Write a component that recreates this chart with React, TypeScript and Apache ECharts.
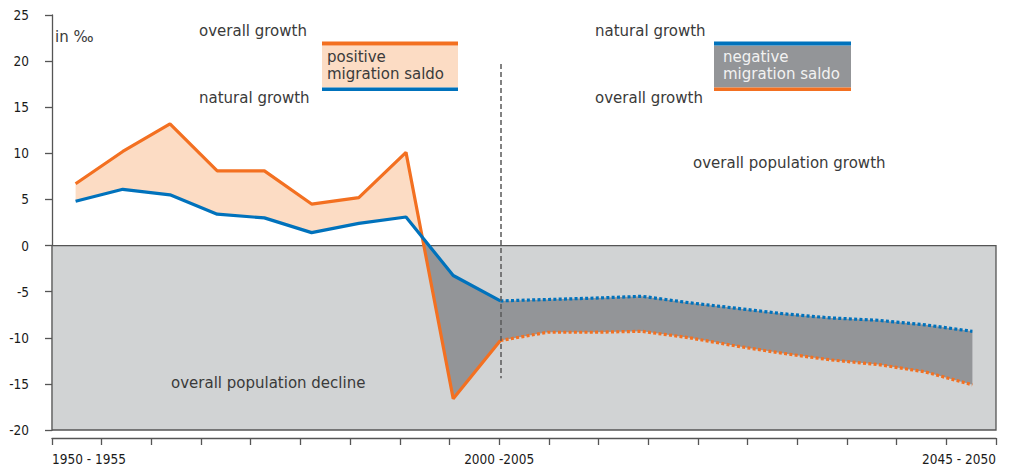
import React, { useEffect, useRef } from "react";
import * as echarts from "echarts";

// Five-year periods 1950-1955 ... 2045-2050 (data categories)
const periods = [
  "1950-1955", "1955-1960", "1960-1965", "1965-1970", "1970-1975",
  "1975-1980", "1980-1985", "1985-1990", "1990-1995", "1995-2000",
  "2000-2005", "2005-2010", "2010-2015", "2015-2020", "2020-2025",
  "2025-2030", "2030-2035", "2035-2040", "2040-2045", "2045-2050",
];
// overall growth (in per mille)
const overallGrowth = [
  6.7, 10.2, 13.2, 8.1, 8.1, 4.5, 5.2, 10.1, -16.6, -10.3,
  -9.4, -9.4, -9.3, -10.0, -10.9, -11.7, -12.4, -12.9, -13.7, -15.1,
];
// natural growth (in per mille)
const naturalGrowth = [
  4.8, 6.1, 5.5, 3.4, 3.0, 1.4, 2.4, 3.1, -3.25, -6.0,
  -5.85, -5.7, -5.5, -6.2, -6.8, -7.4, -7.85, -8.1, -8.6, -9.3,
];
// index where the projection (dotted) starts
const projectionStart = 9;
// tick labels of the visible time axis (20 ticks)
const timeTickLabels = [
  "1950 - 1955", "", "", "", "", "", "", "", "", "2000 -2005",
  "", "", "", "", "", "", "", "", "", "2045 - 2050",
];
const yMin = -20;
const yMax = 25;
const yInterval = 5;
const dashedLineRange = [19.7, -14.4];

const ORANGE = "#f37021";
const BLUE = "#0072bc";
const PEACH = "#fcdcc4";
const DARKGRAY = "#939598";
const LIGHTGRAY = "#d1d3d4";
const TXT = "#3a3a3a";
const ANN_FONT = "'DejaVu Sans', sans-serif";
const AXIS_FONT = "'Liberation Sans Narrow', 'DejaVu Sans Condensed', sans-serif";

export default function App() {
  const ref = useRef<HTMLDivElement>(null);

  useEffect(() => {
    if (!ref.current) return;
    const chart = echarts.init(ref.current, undefined, { renderer: "svg" });

    const renderBands = (params: any, api: any) => {
      const n = overallGrowth.length;
      const po = overallGrowth.map((v, i) => api.coord([i, v]));
      const pb = naturalGrowth.map((v, i) => api.coord([i, v]));
      let k = 0;
      for (let i = 0; i < n - 1; i++) {
        const a = overallGrowth[i] - naturalGrowth[i];
        const b = overallGrowth[i + 1] - naturalGrowth[i + 1];
        if (a >= 0 && b < 0) { k = i; break; }
      }
      const d0 = overallGrowth[k] - naturalGrowth[k];
      const d1 = overallGrowth[k + 1] - naturalGrowth[k + 1];
      const t = d0 / (d0 - d1);
      const cross = [
        po[k][0] + t * (po[k + 1][0] - po[k][0]),
        po[k][1] + t * (po[k + 1][1] - po[k][1]),
      ];
      const pos: number[][] = [];
      for (let i = 0; i <= k; i++) pos.push(po[i]);
      pos.push(cross);
      for (let i = k; i >= 0; i--) pos.push(pb[i]);
      const neg: number[][] = [cross];
      for (let i = k + 1; i < n; i++) neg.push(po[i]);
      for (let i = n - 1; i >= k + 1; i--) neg.push(pb[i]);
      return {
        type: "group",
        children: [
          { type: "polygon", shape: { points: pos }, style: { fill: PEACH } },
          { type: "polygon", shape: { points: neg }, style: { fill: DARKGRAY } },
        ],
      };
    };

    const solid = (arr: number[]) => arr.map((v, i) => (i <= projectionStart ? v : null));
    const dotted = (arr: number[]) => arr.map((v, i) => (i >= projectionStart ? v : null));

    const annText = (text: string, x: number, y: number, fill = TXT, lineHeight = 18) => ({
      type: "text",
      x,
      y,
      style: {
        text,
        fill,
        fontFamily: ANN_FONT,
        fontSize: 15,
        lineHeight,
        verticalAlign: "middle",
        align: "left",
      },
      z: 10,
    });

    const option: any = {
      animation: false,
      grid: { left: 52, right: 14, top: 15, bottom: 38, outerBoundsMode: "none" },
      xAxis: [
        {
          type: "category",
          data: periods,
          boundaryGap: true,
          show: false,
        },
        {
          type: "value",
          min: 0,
          max: timeTickLabels.length - 1,
          interval: 1,
          position: "bottom",
          offset: 8,
          axisLine: { show: true, lineStyle: { color: "#555", width: 1.3 } },
          axisTick: { show: true, length: 7, inside: false, lineStyle: { color: "#555", width: 1.3 } },
          splitLine: { show: false },
          axisLabel: {
            formatter: (v: number) => timeTickLabels[Math.round(v)] ?? "",
            color: "#1a1a1a",
            fontFamily: AXIS_FONT,
            fontSize: 13.5,
            margin: 14,
            alignMinLabel: "left",
            alignMaxLabel: "right",
          },
        },
      ],
      yAxis: {
        type: "value",
        min: yMin,
        max: yMax,
        interval: yInterval,
        offset: 9,
        axisLine: { show: true, lineStyle: { color: "#555", width: 1.3 } },
        axisTick: { show: true, length: 7, inside: false, lineStyle: { color: "#555", width: 1.3 } },
        splitLine: { show: false },
        axisLabel: {
          color: "#1a1a1a",
          fontFamily: AXIS_FONT,
          fontSize: 13.5,
          margin: 14,
        },
      },
      series: [
        {
          type: "line",
          data: periods.map(() => null),
          z: 1,
          silent: true,
          markArea: {
            silent: true,
            itemStyle: { color: LIGHTGRAY, borderColor: "#555", borderWidth: 1.3 },
            data: [[{ yAxis: 0 }, { yAxis: yMin }]],
          },
        },
        {
          type: "custom",
          coordinateSystem: "cartesian2d",
          data: [[0, 0]],
          renderItem: renderBands,
          z: 2,
          silent: true,
          clip: false,
        },
        {
          type: "line",
          data: solid(overallGrowth),
          symbol: "none",
          z: 3,
          lineStyle: { color: ORANGE, width: 3.2 },
          markLine: {
            silent: true,
            symbol: "none",
            label: { show: false },
            lineStyle: { color: "#5a5a5a", type: [5, 3], width: 1.5 },
            data: [[
              { coord: [projectionStart, dashedLineRange[0]] },
              { coord: [projectionStart, dashedLineRange[1]] },
            ]],
          },
        },
        {
          type: "line",
          data: dotted(overallGrowth),
          symbol: "none",
          z: 3,
          lineStyle: { color: ORANGE, width: 3.2, type: [3, 2.3], cap: "butt" },
        },
        {
          type: "line",
          data: solid(naturalGrowth),
          symbol: "none",
          z: 3,
          lineStyle: { color: BLUE, width: 3.2 },
        },
        {
          type: "line",
          data: dotted(naturalGrowth),
          symbol: "none",
          z: 3,
          lineStyle: { color: BLUE, width: 3.2, type: [3, 2.3], cap: "butt" },
        },
      ],
      graphic: [
        annText("in ‰", 55, 37),
        annText("overall growth", 199, 31),
        annText("natural growth", 199, 98),
        { type: "rect", shape: { x: 322, y: 45.5, width: 136, height: 42 }, style: { fill: PEACH }, z: 9 },
        { type: "rect", shape: { x: 322, y: 41.5, width: 136, height: 4 }, style: { fill: ORANGE }, z: 9 },
        { type: "rect", shape: { x: 322, y: 87.5, width: 136, height: 3.5 }, style: { fill: BLUE }, z: 9 },
        annText("positive\nmigration saldo", 327, 65.5, TXT, 17),
        annText("natural growth", 595, 31),
        annText("overall growth", 595, 98),
        { type: "rect", shape: { x: 714, y: 45.5, width: 137, height: 42 }, style: { fill: DARKGRAY }, z: 9 },
        { type: "rect", shape: { x: 714, y: 41.5, width: 137, height: 4 }, style: { fill: BLUE }, z: 9 },
        { type: "rect", shape: { x: 714, y: 87.5, width: 137, height: 3.5 }, style: { fill: ORANGE }, z: 9 },
        annText("negative\nmigration saldo", 723, 65.5, "#f2f2f2", 17),
        annText("overall population growth", 693, 163),
        annText("overall population decline", 171, 383),
      ],
    };

    chart.setOption(option);
    return () => chart.dispose();
  }, []);

  return (
    <div
      ref={ref}
      style={{ position: "fixed", left: 0, top: 0, width: 1010, height: 468, background: "#fff" }}
    />
  );
}
